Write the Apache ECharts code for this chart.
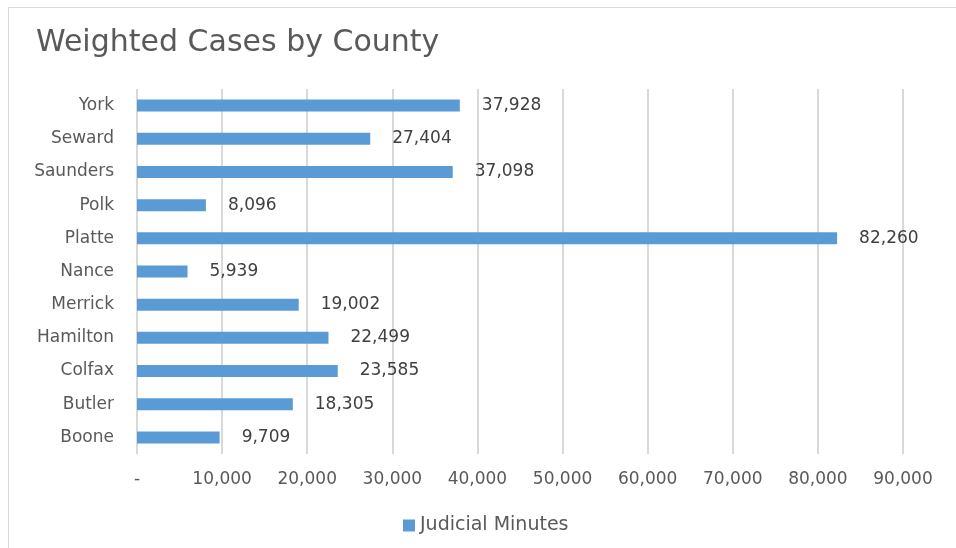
<!DOCTYPE html>
<html>
<head>
<meta charset="utf-8">
<script src="https://cdn.jsdelivr.net/npm/echarts@6/dist/echarts.min.js"></script>
<style>html,body{margin:0;padding:0;background:#fff}#c{width:956px;height:548px}</style>
</head>
<body>
<div id="c"></div>
<script>
const categories = ['Boone','Butler','Colfax','Hamilton','Merrick','Nance','Platte','Polk','Saunders','Seward','York'];
const judicialMinutes = [9709, 18305, 23585, 22499, 19002, 5939, 82260, 8096, 37098, 27404, 37928];
const seriesName = 'Judicial Minutes';
const titleText = 'Weighted Cases by County';
const axisMax = 90000;
const axisStep = 10000;

const FONT = '"DejaVu Sans", sans-serif';
const fmt = v => v.toLocaleString('en-US');
const chart = echarts.init(document.getElementById('c'), null, {renderer: 'canvas'});
chart.setOption({
  backgroundColor: '#fff',
  animation: false,
  graphic: [{
    type: 'rect', silent: true, z: -1,
    shape: {x: 8.5, y: 7.5, width: 960, height: 560},
    style: {fill: 'none', stroke: '#d9d9d9', lineWidth: 1}
  }],
  title: {
    text: titleText, left: 31, top: 23,
    textStyle: {fontFamily: FONT, fontSize: 30, fontWeight: 'normal', color: '#595959'}
  },
  legend: {
    data: [seriesName], left: 398, top: 511,
    itemWidth: 12, itemHeight: 12, icon: 'rect',
    textStyle: {fontFamily: FONT, fontSize: 19, color: '#595959'}
  },
  grid: {left: 137, right: 53, top: 89, bottom: 94, containLabel: false},
  xAxis: {
    type: 'value', min: 0, max: axisMax, interval: axisStep,
    axisLine: {show: false}, axisTick: {show: false},
    splitLine: {show: true, lineStyle: {color: '#d9d9d9', width: 2}},
    axisLabel: {
      margin: 17, fontFamily: FONT, fontSize: 17, color: '#595959',
      formatter: v => v === 0 ? '-' : fmt(v)
    }
  },
  yAxis: {
    type: 'category', data: categories,
    axisLine: {show: false}, axisTick: {show: false},
    axisLabel: {margin: 23, fontFamily: FONT, fontSize: 17, color: '#595959'}
  },
  series: [{
    name: seriesName, type: 'bar', data: judicialMinutes, barWidth: 12,
    itemStyle: {color: '#5b9bd5'},
    label: {
      show: true, position: 'right', distance: 22,
      fontFamily: FONT, fontSize: 17, color: '#404040',
      formatter: p => fmt(p.value)
    }
  }]
});
</script>
</body>
</html>
